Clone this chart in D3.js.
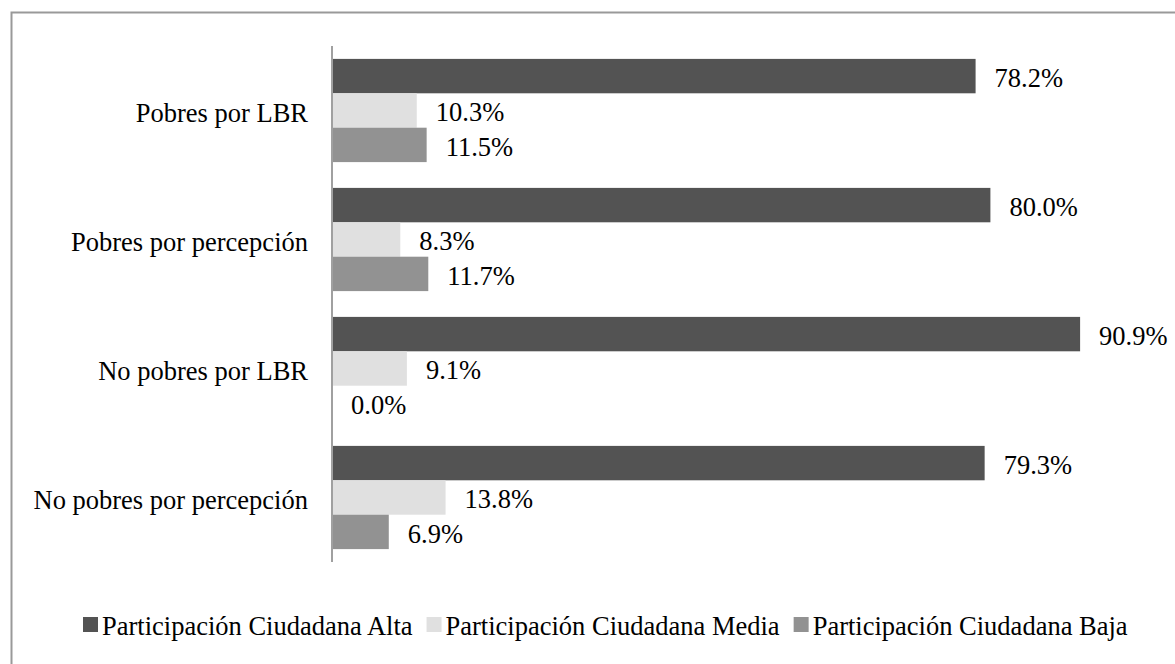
<!DOCTYPE html>
<html>
<head>
<meta charset="utf-8">
<script src="https://cdn.jsdelivr.net/npm/d3@7"></script>
<style>
  body { margin: 0; background: #fff; }
</style>
</head>
<body>
<div id="chart"></div>
<script>
const categories = ["Pobres por LBR", "Pobres por percepción", "No pobres por LBR", "No pobres por percepción"]
const seriesNames = ["Participación Ciudadana Alta", "Participación Ciudadana Media", "Participación Ciudadana Baja"]
const alta = [78.2, 80.0, 90.9, 79.3]
const media = [10.3, 8.3, 9.1, 13.8]
const baja = [11.5, 11.7, 0.0, 6.9]
const colors = ["#535353", "#e0e0e0", "#929292"]

const WIDTH = 1175, HEIGHT = 664
const PLOT = { LEFT: 332, TOP: 46, BOTTOM: 562 }
const FONT = 26.5

const svg = d3.select("#chart").append("svg")
    .attr("width", WIDTH).attr("height", HEIGHT)
    .attr("font-family", "'Liberation Serif', 'Times New Roman', Times, serif")

// outer frame
svg.append("rect")
    .attr("x", 11.5).attr("y", 12.5)
    .attr("width", WIDTH).attr("height", HEIGHT)
    .attr("fill", "none").attr("stroke", "#999").attr("stroke-width", 2)

const series = [alta, media, baja]

const y = d3.scaleBand()
    .domain(categories)
    .range([PLOT.TOP, PLOT.BOTTOM])
    .paddingInner(0.2).paddingOuter(0.1)

const ySub = d3.scaleBand()
    .domain(d3.range(series.length))
    .range([0, y.bandwidth()])

const x = d3.scaleLinear()
    .domain([0, 100])
    .range([PLOT.LEFT, PLOT.LEFT + 823])

const groups = svg.selectAll("g.cat")
    .data(categories)
    .join("g")
    .attr("class", "cat")
    .attr("transform", d => `translate(0, ${y(d)})`)

series.forEach((vals, s) => {
    groups.append("rect")
        .attr("x", x(0))
        .attr("y", ySub(s))
        .attr("width", (d, i) => x(vals[i]) - x(0))
        .attr("height", ySub.bandwidth())
        .attr("fill", colors[s])

    groups.append("text")
        .attr("x", (d, i) => x(vals[i]) + 19)
        .attr("y", ySub(s) + ySub.bandwidth() / 2 + 11)
        .attr("font-size", FONT)
        .text((d, i) => vals[i].toFixed(1) + "%")
})

// category labels
svg.append("g").selectAll("text")
    .data(categories)
    .join("text")
    .attr("x", PLOT.LEFT - 24)
    .attr("y", d => y(d) + y.bandwidth() / 2 + 11)
    .attr("text-anchor", "end")
    .attr("font-size", FONT)
    .text(d => d)

// axis line
svg.append("line")
    .attr("x1", PLOT.LEFT).attr("x2", PLOT.LEFT)
    .attr("y1", PLOT.TOP).attr("y2", PLOT.BOTTOM)
    .attr("stroke", "#a0a0a0").attr("stroke-width", 2)

// legend
const legend = svg.append("g")
let lx = 83
seriesNames.forEach((name, s) => {
    legend.append("rect")
        .attr("x", lx).attr("y", 617)
        .attr("width", 15).attr("height", 15)
        .attr("fill", colors[s])
    const t = legend.append("text")
        .attr("x", lx + 19).attr("y", 635)
        .attr("font-size", FONT)
        .text(name)
    lx += 19 + t.node().getComputedTextLength() + 14
})
</script>
</body>
</html>
